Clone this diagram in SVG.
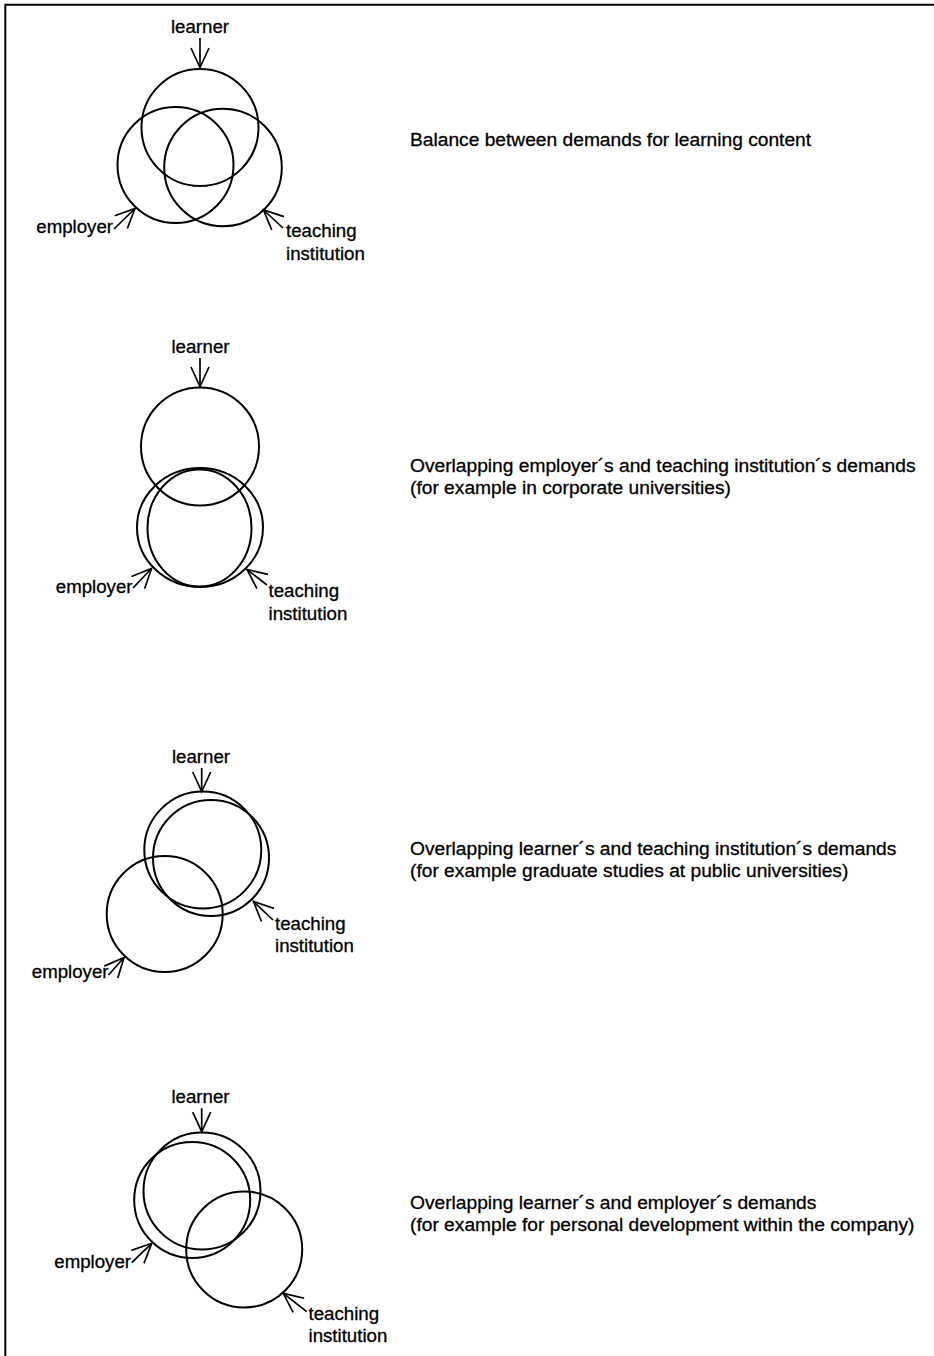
<svg xmlns="http://www.w3.org/2000/svg" width="934" height="1356" viewBox="0 0 934 1356">
  <style>
    .ring { fill: none; stroke: #000; stroke-width: 2; }
    .frame { fill: none; stroke: #000; stroke-width: 2; }
    .arrow { fill: none; stroke: #000; stroke-width: 1.7; marker-end: url(#open-head); }
    text { font-family: "Liberation Sans", Arial, sans-serif; font-size: 18.67px; fill: #000; stroke: #000; stroke-width: 0.3; }
    .caption { font-size: 19.2px; }
    .mid { text-anchor: middle; }
    .end { text-anchor: end; }
  </style>
  <defs>
    <marker id="open-head" markerUnits="userSpaceOnUse" viewBox="-22 -12 24 24" refX="0" refY="0" markerWidth="24" markerHeight="24" orient="auto" overflow="visible">
      <path d="M-19.5,-9 L0,0 L-19.5,9" fill="none" stroke="#000" stroke-width="1.7" stroke-linejoin="miter"/>
    </marker>
  </defs>

  <rect width="934" height="1356" fill="#fff"/>

  <!-- page frame: top and left rules -->
  <g id="frame">
    <path class="frame" d="M5.3,1356 L5.3,4.8 L934,4.8"/>
  </g>

  <!-- 1: balanced demands -->
  <g id="d1-learner">
    <circle class="ring" cx="200" cy="127.5" r="58.5"/>
    <text class="mid" x="200" y="33">learner</text>
  </g>
  <g id="d1-employer">
    <circle class="ring" cx="175.5" cy="165" r="58"/>
    <text class="end" x="113" y="233">employer</text>
  </g>
  <g id="d1-teaching">
    <circle class="ring" cx="223" cy="167.5" r="58.8"/>
    <text x="286" y="237">teaching</text>
    <text x="286" y="259.5">institution</text>
  </g>
  <g id="d1-caption">
    <text class="caption" x="410" y="145.5">Balance between demands for learning content</text>
  </g>

  <!-- 2: employer and teaching institution overlap -->
  <g id="d2-learner">
    <circle class="ring" cx="200" cy="446.5" r="59"/>
    <text class="mid" x="200.5" y="352.5">learner</text>
  </g>
  <g id="d2-employer">
    <ellipse class="ring" cx="200" cy="527.5" rx="63" ry="59.5"/>
    <text class="end" x="132.5" y="593">employer</text>
  </g>
  <g id="d2-teaching">
    <ellipse class="ring" cx="199.5" cy="528" rx="52" ry="58.5"/>
    <text x="268.5" y="597">teaching</text>
    <text x="268.5" y="619.5">institution</text>
  </g>
  <g id="d2-caption">
    <text class="caption" x="410" y="471.7">Overlapping employer´s and teaching institution´s demands</text>
    <text class="caption" x="410" y="493.7">(for example in corporate universities)</text>
  </g>

  <!-- 3: learner and teaching institution overlap -->
  <g id="d3-learner">
    <circle class="ring" cx="202.8" cy="850" r="58.5"/>
    <text class="mid" x="201" y="763">learner</text>
  </g>
  <g id="d3-teaching">
    <circle class="ring" cx="211" cy="858" r="58"/>
    <text x="275" y="929.5">teaching</text>
    <text x="275" y="951.5">institution</text>
  </g>
  <g id="d3-employer">
    <circle class="ring" cx="164.7" cy="914" r="58"/>
    <text class="end" x="108.5" y="978">employer</text>
  </g>
  <g id="d3-caption">
    <text class="caption" x="410" y="855">Overlapping learner´s and teaching institution´s demands</text>
    <text class="caption" x="410" y="877">(for example graduate studies at public universities)</text>
  </g>

  <!-- 4: learner and employer overlap -->
  <g id="d4-learner">
    <circle class="ring" cx="202" cy="1191" r="58.5"/>
    <text class="mid" x="200.5" y="1103">learner</text>
  </g>
  <g id="d4-employer">
    <circle class="ring" cx="192.2" cy="1200" r="58"/>
    <text class="end" x="131" y="1268">employer</text>
  </g>
  <g id="d4-teaching">
    <circle class="ring" cx="244.2" cy="1249.5" r="58"/>
    <text x="308.5" y="1320">teaching</text>
    <text x="308.5" y="1342">institution</text>
  </g>
  <g id="d4-caption">
    <text class="caption" x="410" y="1208.5">Overlapping learner´s and employer´s demands</text>
    <text class="caption" x="410" y="1230.5">(for example for personal development within the company)</text>
  </g>

  <!-- label pointers -->
  <g id="connectors">
    <line class="arrow" x1="200" y1="38" x2="200" y2="67.5"/>
    <line class="arrow" x1="114" y1="229" x2="135" y2="208.5"/>
    <line class="arrow" x1="283" y1="228" x2="263.5" y2="210"/>

    <line class="arrow" x1="200" y1="358" x2="200" y2="386.5"/>
    <line class="arrow" x1="133" y1="588" x2="151.5" y2="568.5"/>
    <line class="arrow" x1="267" y1="585" x2="247" y2="569.5"/>

    <line class="arrow" x1="201.7" y1="768" x2="201.7" y2="791.5"/>
    <line class="arrow" x1="273" y1="920" x2="253.5" y2="901.5"/>
    <line class="arrow" x1="108.5" y1="975" x2="124" y2="957.5"/>

    <line class="arrow" x1="201.7" y1="1108.3" x2="201.7" y2="1131.7"/>
    <line class="arrow" x1="131.7" y1="1262.7" x2="151.7" y2="1243.3"/>
    <line class="arrow" x1="306.7" y1="1311.7" x2="283.3" y2="1293.3"/>
  </g>
</svg>
